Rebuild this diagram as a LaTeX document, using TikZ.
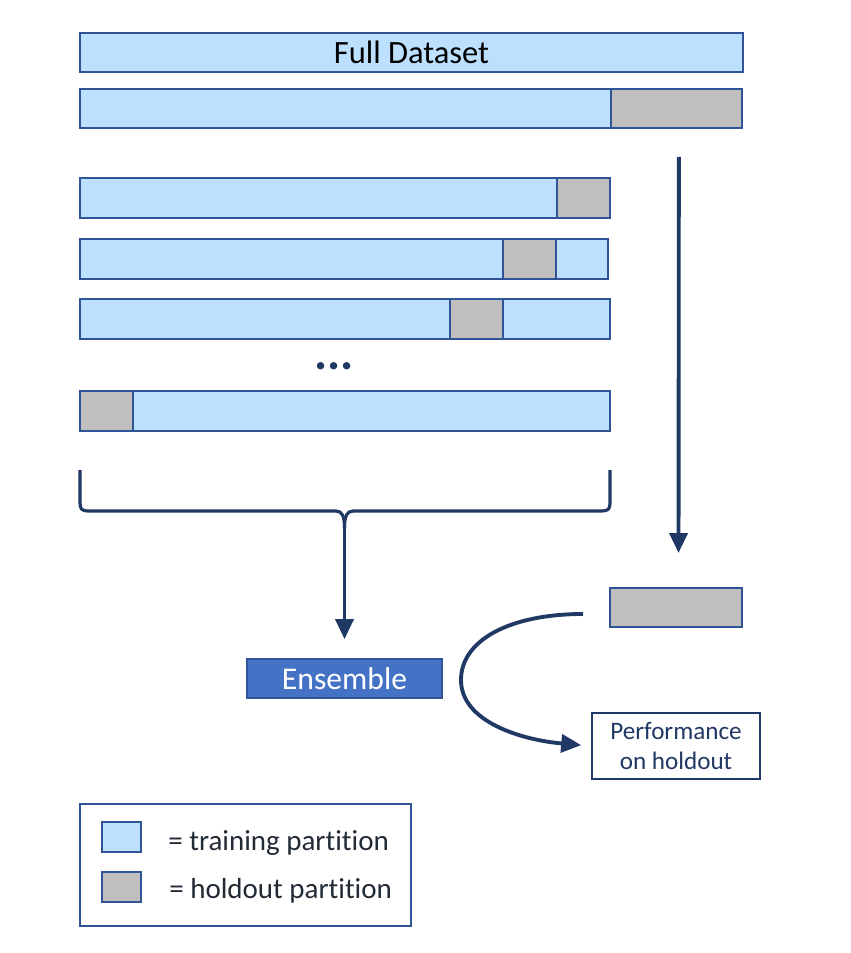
\documentclass[tikz,border=0pt]{standalone}
\usepackage{fontspec}
\setmainfont{Carlito}[Ligatures=NoCommon]
\usetikzlibrary{positioning,arrows.meta}

\definecolor{traincol}{RGB}{189,224,254}
\definecolor{holdcol}{RGB}{191,191,191}
\definecolor{bordercol}{RGB}{47,85,151}
\definecolor{arrowcol}{RGB}{32,56,100}
\definecolor{ensblue}{RGB}{68,114,196}
\definecolor{txtdark}{RGB}{34,42,53}

\tikzset{
  part/.style={draw=bordercol, line width=1pt, inner sep=0pt, outer sep=0pt,
    minimum height=0.8cm, anchor=west},
  trainpart/.style={part, fill=traincol},
  holdpart/.style={part, fill=holdcol},
  flowarrow/.style={draw=arrowcol, line width=2.2pt,
    -{Triangle[length=0.4cm,width=0.36cm]}},
  braceline/.style={draw=arrowcol, line width=1.8pt, line join=round},
}

\begin{document}
\begin{tikzpicture}[x=0.02cm,y=-0.02cm]
	\useasboundingbox (0,0) rectangle (851,953);

	% Full dataset and first split
	\node[trainpart, minimum width=13.26cm, minimum height=0.78cm,
	  font=\fontsize{18.5}{22}\selectfont] (full) at (80,52.5) {Full Dataset};
	\node[trainpart, minimum width=10.62cm, minimum height=0.78cm] (split) at (80,108.5) {};
	\node[holdpart, minimum width=2.62cm, minimum height=0.78cm, right=0pt of split] (splithold) {};

	% Folds
	\node[trainpart, minimum width=9.54cm] (foldA) at (80,198) {};
	\node[holdpart, minimum width=1.06cm, right=0pt of foldA] (foldAhold) {};

	\node[trainpart, minimum width=8.46cm] (foldB) at (80,259) {};
	\node[holdpart, minimum width=1.06cm, right=0pt of foldB] (foldBhold) {};
	\node[trainpart, minimum width=1.04cm, right=0pt of foldBhold] (foldBrest) {};

	\node[trainpart, minimum width=7.4cm] (foldC) at (80,319) {};
	\node[holdpart, minimum width=1.06cm, right=0pt of foldC] (foldChold) {};
	\node[trainpart, minimum width=2.14cm, right=0pt of foldChold] (foldCrest) {};

	\node[text=arrowcol, font=\fontsize{28}{28}\selectfont\bfseries] (dots) at (334,366) {...};

	\node[holdpart, minimum width=1.06cm] (foldKhold) at (80,411) {};
	\node[trainpart, minimum width=9.54cm, right=0pt of foldKhold] (foldK) {};

	% Brace under the folds
	\coordinate (bracetip) at (344.5,528);
	\draw[braceline] (80,470) -- (80,503) .. controls (80,509) and (82,511) .. (88,511)
	  -- (336,511) .. controls (342,511) and (344.5,516) .. (bracetip);
	\draw[braceline] (610,470) -- (610,503) .. controls (610,509) and (608,511) .. (602,511)
	  -- (353,511) .. controls (347,511) and (344.5,516) .. (bracetip);

	% Ensemble and holdout
	\node[draw=bordercol, fill=ensblue, line width=1pt, minimum width=3.9cm, minimum height=0.78cm,
	  text=white, font=\fontsize{18}{22}\selectfont] (ens) at (344.5,678.5) {Ensemble};
	\node[holdpart, anchor=center, minimum width=2.64cm, minimum height=0.78cm] (testhold) at (676,607.5) {};
	\node[draw=arrowcol, line width=1pt, minimum width=3.36cm, minimum height=1.32cm, align=center,
	  text=arrowcol, font=\fontsize{14.3}{17}\selectfont] (perf) at (676,746) {Performance\\on holdout};

	% Arrows
	\draw[flowarrow, shorten >=0.38cm] (bracetip) -- (ens.north);
	\draw[flowarrow, shorten <=0.58cm, shorten >=0.7cm]
	  ([xshift=0.05cm]splithold.south) -- ([xshift=0.05cm]testhold.north);
	\coordinate (loopstart) at (583,614);
	\draw[flowarrow, shorten >=0.2cm] (loopstart) .. controls (510,614) and (461,640) .. (461,680)
	  .. controls (461,722) and (522,740) .. (perf.west);

	% Legend
	\node[draw=bordercol, line width=1pt, minimum width=6.62cm, minimum height=2.44cm] (legend) at (245.5,865) {};
	\node[trainpart, anchor=center, minimum width=0.78cm, minimum height=0.6cm] (keytrain) at (121.5,837) {};
	\node[holdpart, anchor=center, minimum width=0.78cm, minimum height=0.6cm] (keyhold) at (121.5,887) {};
	\node[anchor=base west, inner sep=0pt, text=txtdark, font=\fontsize{16.5}{20}\selectfont]
	  (keytraintext) at (168,850) {= training partition};
	\node[anchor=base west, inner sep=0pt, text=txtdark, font=\fontsize{16.5}{20}\selectfont]
	  (keyholdtext) at (169,898) {= holdout partition};
\end{tikzpicture}
\end{document}
